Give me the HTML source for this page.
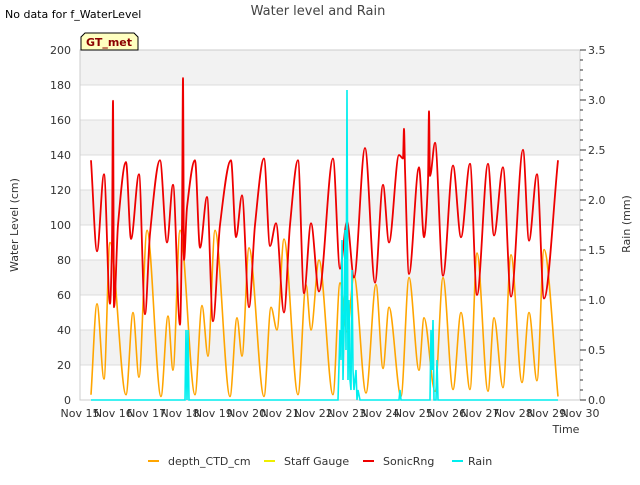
<!DOCTYPE html>
<html><head><meta charset="utf-8"><style>
body{margin:0;background:#fff;font-family:"Liberation Sans","DejaVu Sans",sans-serif;}
svg text{font-family:"DejaVu Sans","Liberation Sans",sans-serif;}
</style></head><body>
<svg id="c" width="640" height="480" xmlns="http://www.w3.org/2000/svg"></svg>
<script>
const xTickLabels=["Nov 15","Nov 16","Nov 17","Nov 18","Nov 19","Nov 20","Nov 21","Nov 22","Nov 23","Nov 24","Nov 25","Nov 26","Nov 27","Nov 28","Nov 29","Nov 30"];
const leftTicks=[0,20,40,60,80,100,120,140,160,180,200];
const rightTicks=[0,0.5,1.0,1.5,2.0,2.5,3.0,3.5];
const sonicT=[0.33,0.51,0.72,0.90,0.96,0.99,1.02,1.14,1.38,1.53,1.77,1.95,2.10,2.40,2.61,2.79,3.00,3.06,3.09,3.12,3.21,3.45,3.60,3.81,3.99,4.20,4.53,4.68,4.86,5.07,5.25,5.52,5.70,5.88,6.12,6.30,6.54,6.72,6.93,7.17,7.59,7.80,8.01,8.22,8.55,8.85,9.09,9.27,9.57,9.69,9.72,9.75,9.87,10.17,10.32,10.44,10.47,10.50,10.65,10.89,11.19,11.43,11.70,11.91,12.24,12.42,12.69,12.93,13.29,13.47,13.71,13.92,14.34];
const sonicV=[137,85,129,55,90,171,53,100,136,92,129,49,95,137,90,123,43,100,184,80,110,137,87,116,45,100,137,93,117,53,100,138,88,101,50,100,137,61,101,62,138,75,102,70,144,67,123,90,140,138,155,132,72,133,93,125,165,128,147,71,134,93,135,60,135,94,133,59,143,91,129,58,137];
const depthT=[0.33,0.51,0.72,0.90,1.38,1.59,1.77,2.01,2.43,2.64,2.79,3.00,3.45,3.66,3.84,4.05,4.50,4.71,4.86,5.07,5.52,5.73,5.91,6.12,6.54,6.78,6.93,7.17,7.59,7.80,8.01,8.22,8.58,8.88,9.09,9.27,9.63,9.87,10.17,10.32,10.65,10.89,11.19,11.43,11.70,11.91,12.24,12.42,12.69,12.93,13.26,13.47,13.71,13.92,14.34];
const depthV=[3,55,12,90,3,50,13,97,2,48,17,97,3,54,25,97,2,47,25,87,2,53,40,92,3,66,40,80,3,67,39,71,4,66,18,53,2,70,17,47,5,70,6,50,6,84,5,47,7,83,10,50,11,86,2];
const rainT=[0.33,3.15,3.18,3.21,3.24,3.27,7.74,7.80,7.83,7.86,7.89,7.92,7.95,7.98,8.01,8.04,8.07,8.10,8.13,8.16,8.19,8.22,8.28,8.31,8.34,8.40,9.57,9.60,9.63,10.50,10.53,10.56,10.59,10.62,10.68,10.71,10.74,14.34];
const rainV=[0,0,0.7,0,0.7,0,0,0.7,0.4,1.6,0.2,0.7,1.7,0.5,3.1,0.2,1.0,0.2,0.1,1.3,0.3,0.1,0.3,0,0.1,0,0,0.1,0,0,0.7,0.3,0.8,0,0,0.4,0,0];

const L=80,R=580,T=50,B=400;
const xs=d=>L+d*(R-L)/15;
const yl=v=>B-v*(B-T)/200;
const yr=v=>B-v*(B-T)/3.5;
const svg=document.getElementById('c');
const NS='http://www.w3.org/2000/svg';
function mk(tag,attrs,parent){const e=document.createElementNS(NS,tag);for(const k in attrs)e.setAttribute(k,attrs[k]);(parent||svg).appendChild(e);return e;}
function txt(s,attrs){const e=mk('text',attrs);e.textContent=s;return e;}

for(let v=20;v<200;v+=40){const b=mk('rect',{x:L,y:yl(v+20),width:R-L,height:yl(v)-yl(v+20),fill:'#f2f2f2'});

}
leftTicks.forEach(v=>{const g=mk('line',{x1:L,x2:R,y1:yl(v),y2:yl(v),stroke:'#dcdcdc','stroke-width':1});


const t=txt(v,{x:L-9,y:yl(v)+4,'text-anchor':'end','font-size':11,fill:'#333'});

});
const frame=mk('rect',{x:L,y:T,width:R-L,height:B-T,fill:'none',stroke:'#ccc'});


rightTicks.forEach(v=>{const t=txt(v.toFixed(1),{x:R+8,y:yr(v)+4,'font-size':11,fill:'#333'});

});
for(let i=0;i<=35;i++){const v=i/10;const tk=mk('line',{x1:R,x2:R+(i%5==0?6:3),y1:yr(v),y2:yr(v),stroke:'#333'});

}
xTickLabels.forEach((s,i)=>{const t=txt(s,{x:xs(i),y:B+17,'text-anchor':'middle','font-size':11,fill:'#333'});

});

// monotone cubic (Fritsch-Carlson)
function smooth(T,V,fy){const x=T.map(xs),y=V.map(fy),n=x.length;const dl=[],m=new Array(n);
for(let i=0;i<n-1;i++)dl.push((y[i+1]-y[i])/(x[i+1]-x[i]));
m[0]=dl[0];m[n-1]=dl[n-2];
for(let i=1;i<n-1;i++){m[i]=(dl[i-1]*dl[i]<=0)?0:(2/(1/dl[i-1]+1/dl[i]));}
let d='M'+x[0]+','+y[0];
for(let i=0;i<n-1;i++){const h=x[i+1]-x[i];
d+=`C${x[i]+h/3},${y[i]+m[i]*h/3} ${x[i+1]-h/3},${y[i+1]-m[i+1]*h/3} ${x[i+1]},${y[i+1]}`;}return d;}
const dp=mk('path',{d:smooth(depthT,depthV,yl),fill:'none',stroke:'#ffa500','stroke-width':1.6});


const sp=mk('path',{d:smooth(sonicT,sonicV,yl),fill:'none',stroke:'#ee0000','stroke-width':1.8});


const rp=mk('polyline',{points:rainT.map((t,i)=>xs(t)+','+yr(rainV[i])).join(' '),fill:'none',stroke:'#00eeee','stroke-width':1.6});



let e;
e=txt('No data for f_WaterLevel',{x:5,y:18,'font-size':11,fill:'#000'});


e=txt('Water level and Rain',{x:318,y:15,'text-anchor':'middle','font-size':13,fill:'#444'});


e=mk('path',{d:'M81,50 L81,37 L85,33 L134,33 L138,37 L138,50 Z',fill:'#ffffc0',stroke:'#000'});


e=txt('GT_met',{x:109,y:46,'text-anchor':'middle','font-size':11,'font-weight':'bold',fill:'#8b0000'});


e=txt('Water Level (cm)',{x:0,y:0,'text-anchor':'middle','font-size':11,fill:'#333',transform:'translate(18,225) rotate(-90)'});


e=txt('Rain (mm)',{x:0,y:0,'text-anchor':'middle','font-size':11,fill:'#333',transform:'translate(630,224) rotate(-90)'});


e=txt('Time',{x:566,y:433,'text-anchor':'middle','font-size':11,fill:'#333'});


const leg=[['depth_CTD_cm','#ffa500',148,168],['Staff Gauge','#eeee00',264,284],['SonicRng','#ee0000',363,383],['Rain','#00eeee',452,468]];
leg.forEach(([n,c,x,tx])=>{const l=mk('line',{x1:x,x2:x+11,y1:461,y2:461,stroke:c,'stroke-width':2});


const t=txt(n,{x:tx,y:465,'font-size':11,fill:'#333'});

});
</script>
</body></html>
